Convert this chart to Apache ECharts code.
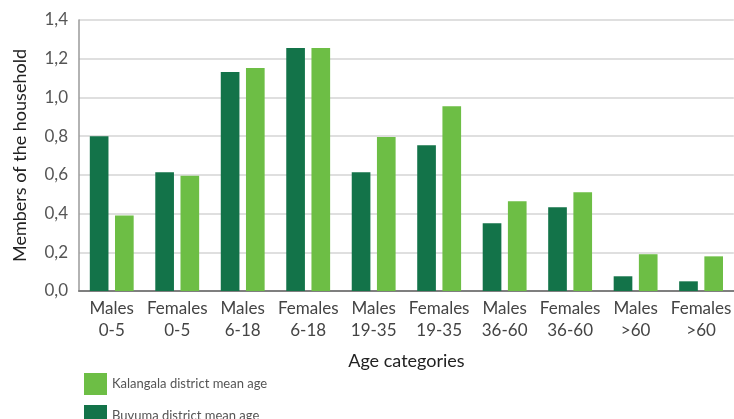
<!DOCTYPE html>
<html>
<head>
<meta charset="utf-8">
<script src="https://cdn.jsdelivr.net/npm/echarts@6/dist/echarts.min.js"></script>
<style>
  html, body { margin: 0; padding: 0; background: #fff; }
  #main { width: 734px; height: 419px; }
</style>
</head>
<body>
<div id="main"></div>
<script>
const categories = [
  "Males\n0-5", "Females\n0-5", "Males\n6-18", "Females\n6-18", "Males\n19-35",
  "Females\n19-35", "Males\n36-60", "Females\n36-60", "Males\n>60", "Females\n>60"
];
const buvuma = [0.80, 0.614, 1.131, 1.255, 0.614, 0.753, 0.35, 0.433, 0.076, 0.05];
const kalangala = [0.39, 0.595, 1.152, 1.255, 0.795, 0.955, 0.464, 0.51, 0.19, 0.179];
const seriesNames = ["Buvuma district mean age", "Kalangala district mean age"];

const font = "Lato, 'Noto Sans', sans-serif";
const dark = "#137349";
const light = "#6dbe45";

// one legend per entry, stacked, since the second one runs off the bottom
function legendItem(name, top) {
  return {
    data: [name],
    left: 79,
    top: top,
    icon: "rect",
    itemWidth: 23,
    itemHeight: 22,
    itemGap: 8,
    textStyle: { fontFamily: font, fontSize: 13, color: "#555" },
  };
}

let myChart = echarts.init(document.getElementById("main"));
let option = {
  animation: false,
  textStyle: { fontFamily: font },
  grid: { left: 79, right: -8, top: 20, bottom: 128, containLabel: false },
  legend: [legendItem(seriesNames[1], 368), legendItem(seriesNames[0], 400)],
  xAxis: {
    type: "category",
    data: categories,
    name: "Age categories",
    nameLocation: "middle",
    nameGap: 61,
    nameTextStyle: { fontFamily: font, fontSize: 18, color: "#222" },
    axisLine: { lineStyle: { color: "#7f7f7f", width: 2 } },
    axisTick: { inside: true, length: 7, lineStyle: { color: "#8a8a8a", width: 2 } },
    axisLabel: {
      fontFamily: font,
      fontSize: 17,
      color: "#444",
      lineHeight: 22,
      margin: 7,
      interval: 0,
    },
  },
  yAxis: {
    type: "value",
    min: 0,
    max: 1.4,
    interval: 0.2,
    name: "Members of the household",
    nameLocation: "middle",
    nameGap: 50,
    nameTextStyle: { fontFamily: font, fontSize: 18, color: "#222" },
    axisLine: { show: true, lineStyle: { color: "#9a9a9a", width: 1.5 } },
    axisTick: { show: false },
    splitLine: { lineStyle: { color: "#d5d5d5", width: 1.5 } },
    axisLabel: {
      fontFamily: font,
      fontSize: 17,
      color: "#555",
      margin: 11,
      formatter: (v) => v.toFixed(1).replace(".", ","),
    },
  },
  series: [
    {
      name: seriesNames[0],
      type: "bar",
      data: buvuma,
      itemStyle: { color: dark },
      barGap: "35%",
      barCategoryGap: "33%",
    },
    {
      name: seriesNames[1],
      type: "bar",
      data: kalangala,
      itemStyle: { color: light },
      barGap: "35%",
      barCategoryGap: "33%",
    },
  ],
};
myChart.setOption(option);
</script>
</body>
</html>
